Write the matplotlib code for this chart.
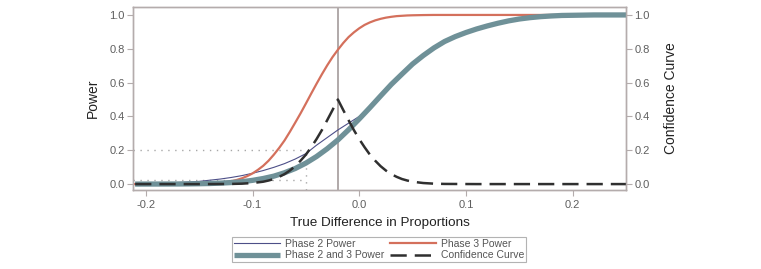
import matplotlib
matplotlib.use("Agg")
import matplotlib.pyplot as plt

# ---- data ----
diff = [-0.21, -0.20, -0.19, -0.18, -0.17, -0.16, -0.15, -0.14, -0.13, -0.12,
        -0.11, -0.10, -0.09, -0.08, -0.07, -0.06, -0.05, -0.04, -0.03, -0.02,
        -0.01, 0.00, 0.01, 0.02, 0.03, 0.04, 0.05, 0.06, 0.07, 0.08,
        0.09, 0.10, 0.11, 0.12, 0.13, 0.14, 0.15, 0.16, 0.17, 0.18,
        0.19, 0.20, 0.21, 0.22, 0.23, 0.24, 0.25]

phase2_power = [0.003, 0.004, 0.005, 0.007, 0.009, 0.012, 0.016, 0.023, 0.030, 0.039,
                0.050, 0.064, 0.080, 0.099, 0.121, 0.148, 0.180, 0.230, 0.275, 0.320,
                0.360, 0.400, 0.458, 0.521, 0.589, 0.650, 0.710, 0.760, 0.805, 0.843,
                0.872, 0.896, 0.917, 0.935, 0.951, 0.965, 0.976, 0.984, 0.990, 0.994,
                0.997, 0.998, 0.999, 1.0, 1.0, 1.0, 1.0]

combined_power = [0.0, 0.0001, 0.0002, 0.0003, 0.0006, 0.0011, 0.002, 0.0034, 0.0057, 0.009,
                  0.014, 0.022, 0.033, 0.047, 0.067, 0.092, 0.124, 0.163, 0.209, 0.261,
                  0.321, 0.385, 0.452, 0.521, 0.589, 0.650, 0.710, 0.760, 0.805, 0.843,
                  0.872, 0.896, 0.917, 0.935, 0.951, 0.965, 0.976, 0.984, 0.990, 0.994,
                  0.997, 0.998, 0.999, 1.0, 1.0, 1.0, 1.0]

phase3_diff = [-0.21, -0.18, -0.16, -0.15, -0.14, -0.13,
               -0.125, -0.12, -0.115, -0.11, -0.105, -0.10, -0.095, -0.09, -0.085, -0.08,
               -0.075, -0.07, -0.065, -0.06, -0.055, -0.05, -0.045, -0.04, -0.035, -0.03,
               -0.025, -0.02, -0.015, -0.01, -0.005, 0.0, 0.005, 0.01, 0.015, 0.02,
               0.025, 0.03, 0.035, 0.04, 0.045, 0.05, 0.06, 0.07, 0.25]
phase3_power = [0.0, 0.0001, 0.0005, 0.0013, 0.0034, 0.008,
                0.012, 0.017, 0.024, 0.034, 0.047, 0.063, 0.084, 0.108, 0.138, 0.174,
                0.214, 0.258, 0.309, 0.363, 0.418, 0.476, 0.535, 0.593, 0.649, 0.702,
                0.751, 0.794, 0.834, 0.869, 0.897, 0.921, 0.941, 0.956, 0.968, 0.977,
                0.984, 0.989, 0.993, 0.995, 0.997, 0.998, 0.9993, 1.0, 1.0]

conf_diff = [-0.21, -0.15, -0.12, -0.11, -0.10, -0.09,
             -0.085, -0.08, -0.075, -0.07, -0.065, -0.06, -0.055, -0.05, -0.045, -0.04,
             -0.035, -0.03, -0.025, -0.02,
             -0.015, -0.01, -0.005, 0.0, 0.005, 0.01, 0.015, 0.02, 0.025, 0.03,
             0.035, 0.04, 0.045, 0.05,
             0.06, 0.07, 0.08, 0.11, 0.25]
confidence = [0.0, 0.0, 0.0009, 0.0025, 0.0062, 0.014,
              0.021, 0.030, 0.043, 0.059, 0.080, 0.106, 0.138, 0.174, 0.218, 0.266,
              0.319, 0.378, 0.438, 0.5,
              0.438, 0.378, 0.319, 0.266, 0.218, 0.174, 0.138, 0.106, 0.080, 0.059,
              0.043, 0.030, 0.021, 0.014,
              0.0062, 0.0025, 0.0009, 0.0, 0.0]

observed_diff = -0.02
ref_diff = -0.05
ref_levels = [0.2, 0.025]

x_ticks = [-0.2, -0.1, 0.0, 0.1, 0.2]
x_ticklabels = ["-0.2", "-0.1", "0.0", "0.1", "0.2"]
y_ticks = [0.0, 0.2, 0.4, 0.6, 0.8, 1.0]
y_ticklabels = ["0.0", "0.2", "0.4", "0.6", "0.8", "1.0"]

# ---- style ----
plt.rcParams['font.family'] = ['Liberation Sans', 'DejaVu Sans']
tick_col = '#5f5f5f'
spine_col = '#b4acac'
c_p2 = '#4d4f88'
c_p3 = '#d4705c'
c_comb = '#6f9198'
c_conf = '#2f2f2f'

fig = plt.figure(figsize=(7.61, 2.69), dpi=100)
ax = fig.add_axes([133/761, 1-190/269, (626-133)/761, (190-7)/269])
ax2 = ax.twinx()

xmin, xmax = -0.212, 0.25
ymin, ymax = -0.035, 1.047

# reference lines
ax.axvline(observed_diff, color='#aaa3a3', lw=1.3, zorder=1)
for lev in ref_levels:
    ax.plot([xmin, ref_diff], [lev, lev], color='#a8a8a8', lw=1.0, ls=(0, (1, 4)), zorder=1)
ax.plot([ref_diff, ref_diff], [ymin, ref_levels[0]], color='#a8a8a8', lw=1.0, ls=(0, (1, 4)), zorder=1)

l2, = ax.plot(diff, phase2_power, color=c_p2, lw=0.8, zorder=3, label='Phase 2 Power')
l3, = ax.plot(phase3_diff, phase3_power, color=c_p3, lw=1.6, zorder=3, label='Phase 3 Power')
lc, = ax.plot(diff, combined_power, color=c_comb, lw=3.8, zorder=4, label='Phase 2 and 3 Power',
              solid_capstyle='butt')
lcf, = ax.plot(conf_diff, confidence, color=c_conf, lw=1.8, ls=(0, (6.5, 3.2)), zorder=5,
               label='Confidence Curve')

for a in (ax, ax2):
    a.set_xlim(xmin, xmax)
    a.set_ylim(ymin, ymax)
    a.set_yticks(y_ticks)
    a.set_yticklabels(y_ticklabels)
    for s in a.spines.values():
        s.set_color(spine_col)
        s.set_linewidth(1.0)
    a.tick_params(colors=spine_col, labelcolor=tick_col, labelsize=8, length=4, width=0.8, pad=2)

ax.set_xticks(x_ticks)
ax.set_xticklabels(x_ticklabels)
ax.tick_params(axis='x', pad=3)

ax.set_ylabel('Power', fontsize=10, color='#222222', labelpad=7)
ax2.set_ylabel('Confidence Curve', fontsize=10, color='#222222', labelpad=10)
ax.set_xlabel('True Difference in Proportions', fontsize=9.7, color='#222222', labelpad=5)

leg = fig.legend(handles=[l2, lc, l3, lcf], ncol=2, loc='center',
                 bbox_to_anchor=(379/761, 1-249.5/269), fontsize=7.5, frameon=True,
                 fancybox=False, edgecolor='#a0a0a0', handlelength=4.4, handletextpad=0.45,
                 columnspacing=0.6, labelspacing=0.15, borderpad=0.2, borderaxespad=0)
leg.get_frame().set_linewidth(0.8)
for t in leg.get_texts():
    t.set_color('#555555')

fig.savefig('out.png', dpi=100)
